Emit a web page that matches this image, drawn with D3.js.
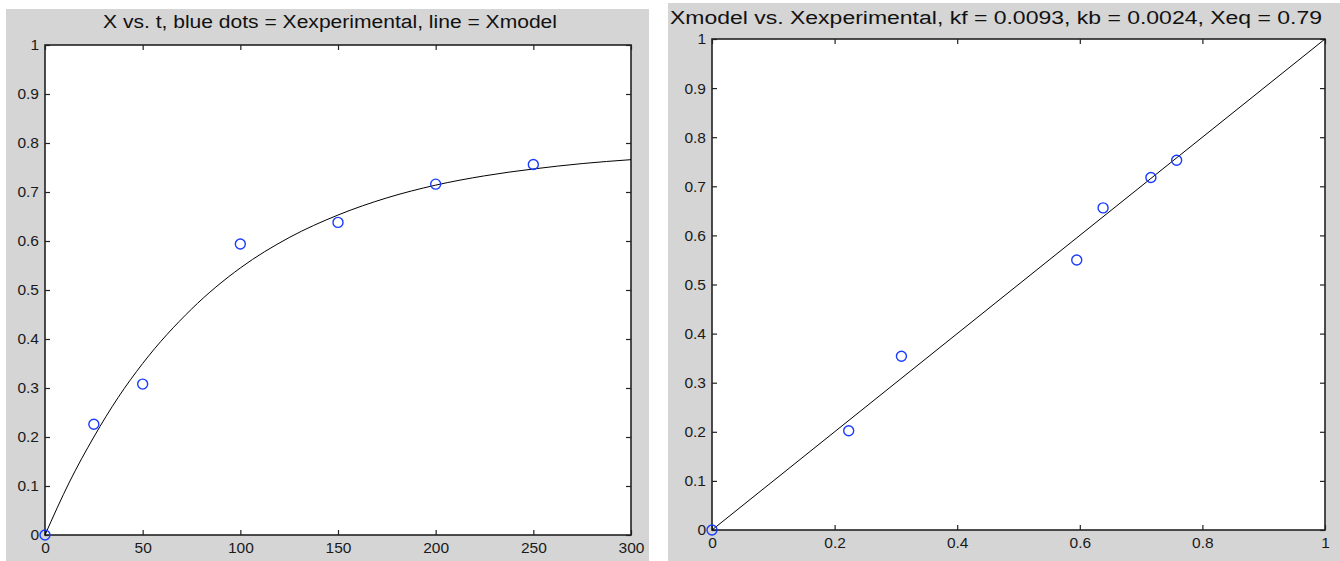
<!DOCTYPE html>
<html>
<head>
<meta charset="utf-8">
<script src="https://cdn.jsdelivr.net/npm/d3@7"></script>
<style>
  body { margin: 0; background: #ffffff; }
  text { font-family: "Liberation Sans", Arial, sans-serif; fill: #111; }
</style>
</head>
<body>
<svg id="svg" width="1340" height="561"></svg>
<script>
// Left panel: X vs t
const tExp = [0, 25, 50, 100, 150, 200, 250];
const xExp = [0, 0.226, 0.308, 0.594, 0.638, 0.716, 0.756];

// Model curve
const tModel = [0, 12.5, 25, 37.5, 50, 75, 100, 125, 150, 175, 200, 225, 250, 275, 300];
const xModel = [0, 0.108, 0.200, 0.281, 0.350, 0.461, 0.545, 0.607, 0.653, 0.688, 0.714, 0.733, 0.747, 0.758, 0.766];

// Right panel: Xmodel vs Xexperimental
const xExpR = [0, 0.223, 0.309, 0.595, 0.638, 0.716, 0.758];
const xModR = [0, 0.202, 0.354, 0.550, 0.656, 0.718, 0.753];
const diagX = [0, 1];
const diagY = [0, 1];

// Tick labels
const leftXTicks = [0, 50, 100, 150, 200, 250, 300];
const yTicks = [0, 0.1, 0.2, 0.3, 0.4, 0.5, 0.6, 0.7, 0.8, 0.9, 1];
const rightXTicks = [0, 0.2, 0.4, 0.6, 0.8, 1];

const titles = [
  "X vs. t, blue dots = Xexperimental, line = Xmodel",
  "Xmodel vs. Xexperimental, kf = 0.0093, kb = 0.0024, Xeq = 0.79"
];

const svg = d3.select("svg#svg");

const panels = [
  { bg: [6, 9, 643, 552], plot: [45, 45, 631, 535], title: [330, 28, 454],
    xDomain: [0, 300], xTicks: leftXTicks, xs: tModel, ys: xModel, px: tExp, py: xExp },
  { bg: [668, 3, 672, 558], plot: [712, 39, 1325, 530], title: [996, 24, 652],
    xDomain: [0, 1], xTicks: rightXTicks, xs: diagX, ys: diagY, px: xExpR, py: xModR }
];

const fmt = d => String(+d.toFixed(2));

panels.forEach(function(p, i) {
  const g = svg.append("g");
  g.append("rect")
    .attr("x", p.bg[0]).attr("y", p.bg[1])
    .attr("width", p.bg[2]).attr("height", p.bg[3])
    .style("fill", "#d5d5d5");

  const [x0, y0, x1, y1] = p.plot;
  const x = d3.scaleLinear().domain(p.xDomain).range([x0, x1]);
  const y = d3.scaleLinear().domain([0, 1]).range([y1, y0]);

  g.append("rect")
    .attr("x", x0).attr("y", y0)
    .attr("width", x1 - x0).attr("height", y1 - y0)
    .style("fill", "#ffffff");

  // inward ticks on all four sides
  g.append("g").attr("transform", "translate(0," + y1 + ")")
    .call(d3.axisBottom(x).tickValues(p.xTicks).tickFormat(fmt).tickSize(-5).tickPadding(7));
  g.append("g").attr("transform", "translate(0," + y0 + ")")
    .call(d3.axisTop(x).tickValues(p.xTicks).tickFormat("").tickSize(-5));
  g.append("g").attr("transform", "translate(" + x0 + ",0)")
    .call(d3.axisLeft(y).tickValues(yTicks).tickFormat(fmt).tickSize(-5).tickPadding(6));
  g.append("g").attr("transform", "translate(" + x1 + ",0)")
    .call(d3.axisRight(y).tickValues(yTicks).tickFormat("").tickSize(-5));

  g.selectAll(".domain").remove();
  g.selectAll(".tick line").style("stroke", "#222").style("stroke-width", 1.2);
  g.selectAll(".tick text")
    .style("fill", "#1a1a1a")
    .style("font-family", "'Liberation Sans', Arial, sans-serif")
    .style("font-size", "15.5px");

  g.append("rect")
    .attr("x", x0).attr("y", y0)
    .attr("width", x1 - x0).attr("height", y1 - y0)
    .style("fill", "none").style("stroke", "#222").style("stroke-width", 1.6);

  // line
  const line = d3.line()
    .x(d => x(d[0])).y(d => y(d[1]))
    .curve(d3.curveMonotoneX);
  g.append("path")
    .datum(p.xs.map((v, k) => [v, p.ys[k]]))
    .attr("d", line)
    .style("fill", "none").style("stroke", "#000").style("stroke-width", 1);

  // markers
  g.selectAll("circle.pt")
    .data(p.px.map((v, k) => [v, p.py[k]]))
    .enter().append("circle")
    .attr("class", "pt")
    .attr("cx", d => x(d[0])).attr("cy", d => y(d[1]))
    .attr("r", 5)
    .style("fill", "none").style("stroke", "#1a3cff").style("stroke-width", 1.4);

  g.append("text")
    .attr("x", p.title[0]).attr("y", p.title[1])
    .attr("text-anchor", "middle")
    .attr("textLength", p.title[2])
    .attr("lengthAdjust", "spacingAndGlyphs")
    .style("font-size", "18px")
    .text(titles[i]);
});
</script>
</body>
</html>
